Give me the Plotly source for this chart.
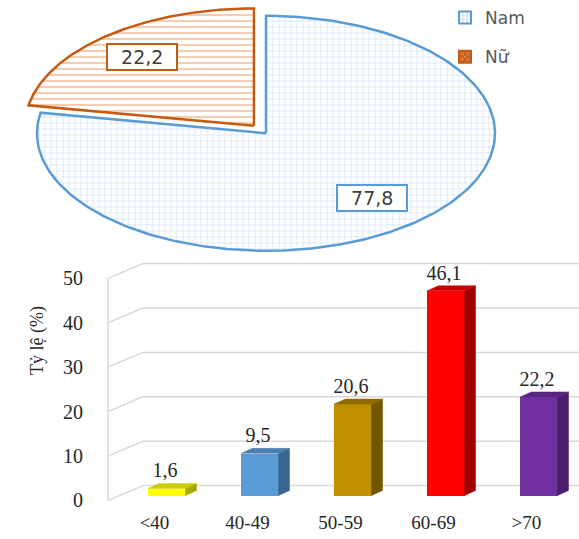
import numpy as np
import plotly.graph_objects as go

# ---------------- data ----------------
gender_labels = ["Nam", "Nữ"]
gender_values = [77.8, 22.2]
gender_text = ["77,8", "22,2"]

age_groups = ["<40", "40-49", "50-59", "60-69", ">70"]
age_values = [1.6, 9.5, 20.6, 46.1, 22.2]
age_text = ["1,6", "9,5", "20,6", "46,1", "22,2"]
y_ticks = [0, 10, 20, 30, 40, 50]

# ---------------- styles ----------------
W, H = 579, 539
CX, CY, RA, RB = 266, 135, 229, 119      # ellipse of the pie (pixel space)
EXPLODE = [0.0, 0.082]
LABEL_R = [0.72, 0.76]
pie_line = ["#5b9bd5", "#c55a11"]
pie_fg = ["#a9c9ec", "#ee9c68"]
pie_shape = ["+", "-"]
pie_solid = [0.25, 0.35]
leg_fill = ["white", "#c55a11"]
leg_fg = ["#5b9bd5", "white"]

front_cols = ["#ffff00", "#5b9bd5", "#bf8f00", "#ff0000", "#7030a0"]
top_cols = ["#cccc00", "#4a7fb0", "#8f6b00", "#c80000", "#5a2682"]
side_cols = ["#a6a600", "#3b6690", "#735600", "#a00000", "#4a1f6b"]

SHIFT, BW, SDX, SDY, BASE = 0.134, 0.40, 0.118, 1.11, 1.11
WALL_DX, WALL_DY = 0.376, 3.33
X_RANGE = [-0.543, 4.565]
Y_RANGE = [-0.889, 54.89]
SERIF = "Liberation Serif"
TXT = "#262626"
NB = "\u00a0"

fig = go.Figure()

# ---------------- pie (drawn as ellipse slices) ----------------
total = sum(gender_values)
start = 0.0
for i, (lab, val) in enumerate(zip(gender_labels, gender_values)):
    frac = val / total
    t = np.linspace(start, start + frac, 240) * 2 * np.pi
    mid = (start + frac / 2) * 2 * np.pi
    cx = CX + RA * EXPLODE[i] * np.sin(mid)
    cy = CY - RB * EXPLODE[i] * np.cos(mid)
    xs = np.concatenate([[cx], cx + RA * np.sin(t), [cx]])
    ys = np.concatenate([[cy], cy - RB * np.cos(t), [cy]])
    fig.add_trace(go.Scatter(
        x=xs, y=ys, xaxis="x2", yaxis="y2", mode="lines", fill="toself",
        fillcolor="white",
        fillpattern=dict(shape=pie_shape[i], fgcolor=pie_fg[i], bgcolor="white",
                         size=6, solidity=pie_solid[i]),
        line=dict(color=pie_line[i], width=2.5), name=lab,
        hoverinfo="skip", showlegend=False))
    # legend entry
    fig.add_trace(go.Bar(
        x=[None], y=[None], xaxis="x2", yaxis="y2", name=lab, legendgroup=lab,
        marker=dict(color=leg_fill[i], line=dict(color=pie_line[i], width=2),
                    pattern=dict(shape="+" if i == 0 else "x", fgcolor=leg_fg[i],
                                 bgcolor=leg_fill[i], size=5, solidity=0.3)),
        showlegend=True, hoverinfo="skip"))
    lx = cx + RA * LABEL_R[i] * np.sin(mid)
    ly = cy - RB * LABEL_R[i] * np.cos(mid)
    fig.add_annotation(x=lx, y=ly, xref="x2", yref="y2",
                       text=NB * 2 + gender_text[i] + NB * 2,
                       showarrow=False, font=dict(family="DejaVu Sans", size=19, color="#404040"),
                       bgcolor="white", bordercolor=pie_line[i], borderwidth=2, borderpad=1)
    start += frac

# ---------------- 3D-style gridlines (walls) ----------------
shapes = []
gl = dict(color="#d9d9d9", width=1.5)
x_front = X_RANGE[0] + 0.043
for tv in y_ticks:
    shapes.append(dict(type="line", xref="x", yref="y", layer="below",
                       x0=x_front, y0=tv, x1=x_front + WALL_DX, y1=tv + WALL_DY, line=gl))
    shapes.append(dict(type="line", xref="x", yref="y", layer="below",
                       x0=x_front + WALL_DX, y0=tv + WALL_DY, x1=X_RANGE[1] + 0.1, y1=tv + WALL_DY, line=gl))
shapes.append(dict(type="line", xref="x", yref="y", layer="below",
                   x0=x_front, y0=y_ticks[0], x1=x_front, y1=y_ticks[-1], line=gl))

# ---------------- bars ----------------
idx = np.arange(len(age_groups))
bx = idx + SHIFT
fig.add_trace(go.Bar(x=bx, y=age_values, base=BASE, width=BW,
                     marker=dict(color=front_cols, line=dict(width=0)),
                     showlegend=False, hoverinfo="skip", xaxis="x", yaxis="y"))
for i, v in enumerate(age_values):
    xl, xr = bx[i] - BW / 2, bx[i] + BW / 2
    top = BASE + v
    fig.add_trace(go.Scatter(
        x=[xr, xr + SDX, xr + SDX, xr, xr],
        y=[BASE, BASE + SDY, top + SDY, top, BASE],
        mode="lines", fill="toself", fillcolor=side_cols[i], line=dict(width=0.5, color=side_cols[i]),
        showlegend=False, hoverinfo="skip", xaxis="x", yaxis="y"))
    fig.add_trace(go.Scatter(
        x=[xl, xr, xr + SDX, xl + SDX, xl],
        y=[top, top, top + SDY, top + SDY, top],
        mode="lines", fill="toself", fillcolor=top_cols[i], line=dict(width=0.5, color=top_cols[i]),
        showlegend=False, hoverinfo="skip", xaxis="x", yaxis="y"))

fig.add_trace(go.Scatter(
    x=bx - 0.02, y=[v + BASE + 3.6 for v in age_values], text=age_text, mode="text",
    textfont=dict(family=SERIF, size=20, color=TXT), showlegend=False, hoverinfo="skip",
    xaxis="x", yaxis="y", cliponaxis=False))

fig.add_annotation(x=25 / W, y=1 - 382 / H, xref="paper", yref="paper", text="Tỷ lệ (%)",
                   textangle=-90, showarrow=False,
                   font=dict(family=SERIF, size=18, color=TXT))

fig.update_layout(
    width=W, height=H, margin=dict(l=0, r=0, t=0, b=0),
    paper_bgcolor="white", plot_bgcolor="rgba(0,0,0,0)",
    shapes=shapes, bargap=0, barmode="overlay",
    xaxis=dict(domain=[104 / W, 1], range=X_RANGE, tickvals=idx, ticktext=age_groups,
               showgrid=False, zeroline=False, showline=False, ticks="",
               tickfont=dict(family=SERIF, size=19, color=TXT), ticklabelstandoff=5,
               anchor="y", fixedrange=True),
    yaxis=dict(domain=[1 - 511 / H, 1 - 260 / H], range=Y_RANGE, tickvals=y_ticks,
               showgrid=False, zeroline=False, showline=False, ticks="",
               tickfont=dict(family=SERIF, size=20, color=TXT), ticklabelstandoff=20,
               anchor="x", fixedrange=True),
    xaxis2=dict(domain=[0, 1], range=[0, W], visible=False, anchor="y2", fixedrange=True),
    yaxis2=dict(domain=[1 - 262 / H, 1], range=[262, 0], visible=False, anchor="x2", fixedrange=True),
    legend=dict(x=445 / W, y=1, xanchor="left", yanchor="top", tracegroupgap=14,
                font=dict(family="DejaVu Sans", size=17, color="#595959"),
                bgcolor="rgba(0,0,0,0)"),
)

fig.write_html("out.html")
